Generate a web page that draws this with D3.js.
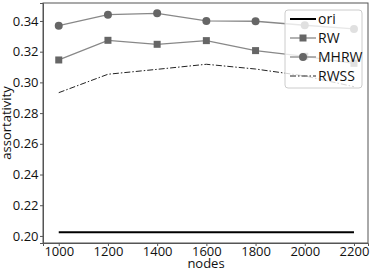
<!DOCTYPE html>
<html><head><meta charset="utf-8">
<script src="https://cdn.jsdelivr.net/npm/d3@7"></script>
<style>body{margin:0;background:#fff}svg{display:block}text{font-family:"Open Sans",sans-serif}</style>
</head><body><svg id="c" width="370" height="274"></svg>
<script>
const nodes = [1000, 1200, 1400, 1600, 1800, 2000, 2200];
const ori  = [0.2024, 0.2024, 0.2024, 0.2024, 0.2024, 0.2024, 0.2024];
const rw   = [0.3146, 0.3274, 0.3248, 0.3272, 0.3207, 0.3170, 0.3124];
const mhrw = [0.3369, 0.3441, 0.3450, 0.3400, 0.3398, 0.3372, 0.3348];
const rwss = [0.2933, 0.3053, 0.3085, 0.3118, 0.3087, 0.3042, 0.2972];
const yTicks = [0.20, 0.22, 0.24, 0.26, 0.28, 0.30, 0.32, 0.34];
const xTicks = [1000, 1200, 1400, 1600, 1800, 2000, 2200];
const seriesNames = ["ori", "RW", "MHRW", "RWSS"];

const svg = d3.select("#c");
const L = 43, R = 368, T = 3, B = 243;
const x = d3.scaleLinear().domain([936, 2257]).range([L, R]);
const y = d3.scaleLinear().domain([0.1954, 0.3517]).range([B, T]);

// frame
svg.append("rect").attr("x", L).attr("y", T).attr("width", R - L).attr("height", B - T)
  .attr("fill", "none").attr("stroke", "#555").attr("stroke-width", 1);

const ya = svg.append("g").attr("transform", `translate(${L},0)`)
  .call(d3.axisLeft(y).tickValues(yTicks).tickFormat(d3.format(".2f")).tickSize(3).tickPadding(1.5));
const xa = svg.append("g").attr("transform", `translate(0,${B})`)
  .call(d3.axisBottom(x).tickValues(xTicks).tickFormat(d3.format("d")).tickSize(3).tickPadding(1));
[ya, xa].forEach(a => {
  a.select(".domain").attr("stroke", "#555");
  a.selectAll(".tick line").attr("stroke", "#555");
  a.selectAll("text").attr("font-size", 13).attr("fill", "#111").style("font-family", '"Open Sans",sans-serif');
});

svg.append("text").attr("x", 206).attr("y", 268).attr("text-anchor", "middle")
  .attr("font-size", 13).attr("fill", "#111").text("nodes");
svg.append("text").attr("transform", "translate(11,123) rotate(-90)").attr("text-anchor", "middle")
  .attr("font-size", 13).attr("fill", "#111").text("assortativity");

const line = d3.line().x((d, i) => x(nodes[i])).y(d => y(d));
const g = svg.append("g");
g.append("path").datum(ori).attr("d", line).attr("fill", "none").attr("stroke", "#000").attr("stroke-width", 2);
g.append("path").datum(rw).attr("d", line).attr("fill", "none").attr("stroke", "#888").attr("stroke-width", 1.3);
g.append("path").datum(mhrw).attr("d", line).attr("fill", "none").attr("stroke", "#888").attr("stroke-width", 1.3);
g.append("path").datum(rwss).attr("d", line).attr("fill", "none").attr("stroke", "#222").attr("stroke-width", 1)
  .attr("stroke-dasharray", "6,2,1.5,2");
g.selectAll(".sq").data(rw).join("rect").attr("x", (d, i) => x(nodes[i]) - 3.5).attr("y", d => y(d) - 3.5)
  .attr("width", 7).attr("height", 7).attr("fill", "#666");
g.selectAll(".ci").data(mhrw).join("circle").attr("cx", (d, i) => x(nodes[i])).attr("cy", d => y(d))
  .attr("r", 4).attr("fill", "#666");

// legend
const lg = svg.append("g");
lg.append("rect").attr("x", 285).attr("y", 10).attr("width", 77).attr("height", 78).attr("rx", 3)
  .attr("fill", "#fff").attr("fill-opacity", 0.8).attr("stroke", "#ccc").attr("stroke-width", 1);
const ly = [19, 38, 57, 76];
const lx0 = 290, lx1 = 316;
seriesNames.forEach((n, i) => {
  const yy = ly[i];
  const p = lg.append("line").attr("x1", lx0).attr("x2", lx1).attr("y1", yy).attr("y2", yy);
  if (i === 0) p.attr("stroke", "#000").attr("stroke-width", 2);
  else if (i === 3) p.attr("stroke", "#222").attr("stroke-width", 1).attr("stroke-dasharray", "6,2,1.5,2");
  else p.attr("stroke", "#888").attr("stroke-width", 1.3);
  if (i === 1) lg.append("rect").attr("x", (lx0 + lx1) / 2 - 3.5).attr("y", yy - 3.5).attr("width", 7).attr("height", 7).attr("fill", "#666");
  if (i === 2) lg.append("circle").attr("cx", (lx0 + lx1) / 2).attr("cy", yy).attr("r", 4).attr("fill", "#666");
  lg.append("text").attr("x", 318).attr("y", yy + 5).attr("font-size", 14).attr("fill", "#111").text(n);
});
</script></body></html>
